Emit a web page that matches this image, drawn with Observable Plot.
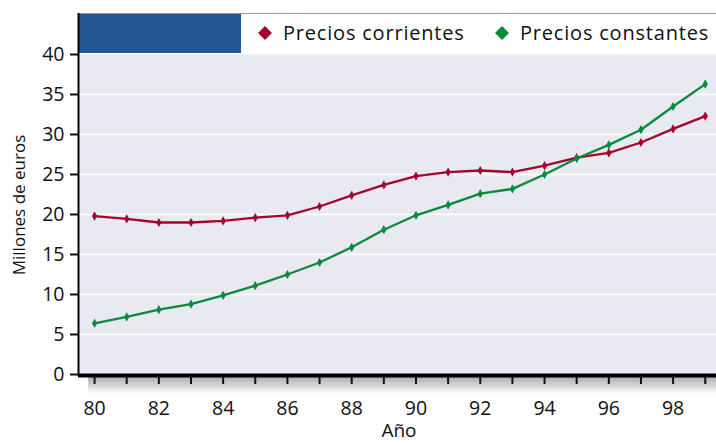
<!DOCTYPE html>
<html>
<head>
<meta charset="utf-8">
<script src="https://cdn.jsdelivr.net/npm/d3@7"></script>
<script src="https://cdn.jsdelivr.net/npm/@observablehq/plot@0.6"></script>
<style>
  body { margin: 0; background: #fff; }
  #chart svg { display: block; }
</style>
</head>
<body>
<div id="chart"></div>
<script>
// Years (two-digit, 1980–1999)
const years = [80, 81, 82, 83, 84, 85, 86, 87, 88, 89, 90, 91, 92, 93, 94, 95, 96, 97, 98, 99];
// Millones de euros, precios corrientes
const corrientes = [19.8, 19.45, 19.0, 19.0, 19.2, 19.6, 19.9, 21.0, 22.4, 23.7, 24.8, 25.3, 25.5, 25.3, 26.1, 27.1, 27.7, 29.0, 30.7, 32.3];
// Millones de euros, precios constantes
const constantes = [6.4, 7.2, 8.1, 8.8, 9.9, 11.1, 12.5, 14.0, 15.9, 18.1, 19.9, 21.2, 22.6, 23.2, 25.0, 27.0, 28.7, 30.6, 33.5, 36.3];

const seriesNames = ["Precios corrientes", "Precios constantes"];
const seriesColors = ["#a6052b", "#0a8a3d"];
const yTicks = [0, 5, 10, 15, 20, 25, 30, 35, 40];
const gridValues = [5, 10, 15, 20, 25, 30, 35];
const xLabel = "Año";
const yLabel = "Millones de euros";

const rows = years.flatMap((yr, i) => [
  {year: yr, value: corrientes[i], serie: seriesNames[0]},
  {year: yr, value: constantes[i], serie: seriesNames[1]}
]);

const font = "'Open Sans', 'Noto Sans', sans-serif";

const plot = Plot.plot({
  width: 716,
  height: 443,
  marginLeft: 78,
  marginRight: 0,
  marginTop: 54,
  marginBottom: 69,
  style: {fontFamily: font, fontSize: "19.5px", color: "#111", background: "transparent"},
  x: {domain: [79.5, 99.35]},
  y: {domain: [0, 40]},
  color: {domain: seriesNames, range: seriesColors},
  marks: [
    Plot.frame({fill: "#e9e9f1", stroke: "none"}),
    Plot.ruleY(gridValues, {stroke: "#ffffff", strokeWidth: 1.6}),
    Plot.axisY({ticks: yTicks, tickSize: 8, tickPadding: 6, strokeWidth: 2, label: null, fontSize: 19.5}),
    Plot.axisX({ticks: years, tickSize: 10, tickPadding: 17, strokeWidth: 2, label: null, fontSize: 19.5,
                tickFormat: d => (d % 2 === 0 ? String(d) : "")}),
    Plot.lineY(rows, {x: "year", y: "value", z: "serie", stroke: "serie", strokeWidth: 2.3}),
    Plot.dot(rows, {x: "year", y: "value", fill: "serie", symbol: "diamond", r: 2.8}),
    Plot.ruleY([0], {stroke: "#000", strokeWidth: 4, dy: 1})
  ]
});

document.getElementById("chart").appendChild(plot);

// Decorations around the plot frame: header band, legend, axis lines, titles
const sx = plot.scale("x"), sy = plot.scale("y");
const X = d3.scaleLinear(sx.domain, sx.range);
const Y = d3.scaleLinear(sy.domain, sy.range);
const svg = d3.select(plot);
const frameLeft = X(sx.domain[0]), frameRight = X(sx.domain[1]);
const frameTop = Y(40), frameBottom = Y(0);
const headerTop = 13.5;

// soft shadow under the x axis
const defs = svg.insert("defs", ":first-child");
const grad = defs.append("linearGradient").attr("id", "axisShade")
  .attr("x1", 0).attr("y1", 0).attr("x2", 0).attr("y2", 1);
grad.append("stop").attr("offset", 0).attr("stop-color", "#000").attr("stop-opacity", 0.32);
grad.append("stop").attr("offset", 1).attr("stop-color", "#000").attr("stop-opacity", 0);
svg.insert("rect", "defs + *")
  .attr("x", X(years[0]) - 6).attr("y", frameBottom + 3)
  .attr("width", frameRight - X(years[0]) + 6).attr("height", 17)
  .attr("fill", "url(#axisShade)");

// header band above the plot
svg.append("rect")
  .attr("x", frameLeft).attr("y", headerTop).attr("width", 241 - frameLeft).attr("height", frameTop - headerTop - 1)
  .attr("fill", "#245891");
svg.append("line")
  .attr("x1", frameLeft).attr("x2", frameRight).attr("y1", headerTop).attr("y2", headerTop)
  .attr("stroke", "#9a9a9a").attr("stroke-width", 1.2);

// y axis line running up through the header
svg.append("line")
  .attr("x1", frameLeft + 0.5).attr("x2", frameLeft + 0.5).attr("y1", headerTop - 0.5).attr("y2", frameBottom + 2)
  .attr("stroke", "#000").attr("stroke-width", 2);

// legend
const legendX = [265, 502];
seriesNames.forEach((name, i) => {
  const g = svg.append("g").attr("transform", `translate(${legendX[i]},33)`);
  g.append("path").attr("d", "M0,-7L7,0L0,7L-7,0Z").attr("fill", seriesColors[i]);
  g.append("text").attr("x", 18).attr("y", 6.5).attr("text-anchor", "start")
    .attr("font-family", font).attr("font-size", 20).attr("letter-spacing", "0.8px")
    .attr("fill", "#111").text(name);
});

// axis titles
svg.append("text")
  .attr("x", (frameLeft + frameRight) / 2 + 2).attr("y", 437).attr("text-anchor", "middle")
  .attr("font-family", font).attr("font-size", 19).attr("fill", "#111").text(xLabel);
svg.append("text")
  .attr("transform", "translate(24.5,205) rotate(-90)").attr("text-anchor", "middle")
  .attr("font-family", font).attr("font-size", 17).attr("fill", "#111").text(yLabel);
</script>
</body>
</html>
